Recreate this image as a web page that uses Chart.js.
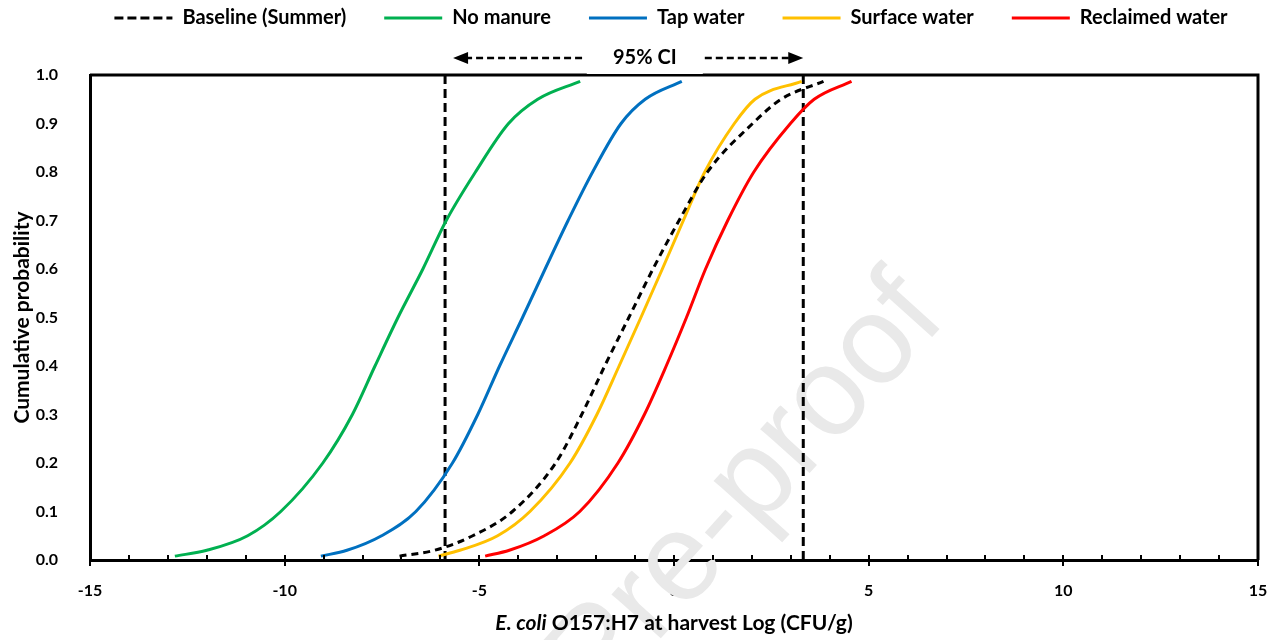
<!DOCTYPE html>
<html>
<head>
<meta charset="utf-8">
<script src="https://cdn.jsdelivr.net/npm/chart.js@4.4.0/dist/chart.umd.min.js"></script>
<style>
  html, body { margin: 0; padding: 0; background: #fff; }
  #wrap { width: 1286px; height: 640px; }
</style>
</head>
<body>
<div id="wrap"><canvas id="myChart" width="1286" height="640"></canvas></div>
<script>
// cumulative probability levels the curves were read at
var probLevels = [0.008, 0.02, 0.05, 0.1, 0.2, 0.3, 0.4, 0.5, 0.6, 0.7, 0.8, 0.9, 0.95, 0.987];

// log CFU/g at each probability level
var baselineX  = [-7.05, -6.15, -5.17, -4.15, -3.04, -2.37, -1.78, -1.16, -0.54, 0.13, 0.86, 2.02, 2.75, 3.84];
var noManureX  = [-12.82, -12.0, -10.95, -10.1, -9.02, -8.26, -7.68, -7.09, -6.45, -5.85, -5.1, -4.25, -3.5, -2.41];
var tapWaterX  = [-9.07, -8.4, -7.51, -6.63, -5.69, -5.04, -4.48, -3.89, -3.31, -2.72, -2.09, -1.36, -0.74, 0.2];
var surfaceX   = [-6.05, -5.5, -4.53, -3.7, -2.67, -1.98, -1.41, -0.85, -0.3, 0.24, 0.79, 1.55, 2.08, 3.28];
var reclaimedX = [-4.85, -4.23, -3.33, -2.42, -1.44, -0.76, -0.2, 0.32, 0.81, 1.38, 2.05, 2.99, 3.6, 4.56];

var ciBounds = [-5.88, 3.32];
var ciLabel = '95% CI';
var seriesNames = ['Baseline (Summer)', 'No manure', 'Tap water', 'Surface water', 'Reclaimed water'];

var FONT = "Lato, 'Open Sans', sans-serif";

function toPoints(xs) {
	return xs.map(function (x, i) { return { x: x, y: probLevels[i] }; });
}
function ciLine(x) {
	return [{ x: x, y: 0 }, { x: x, y: 1 }];
}

// legend sits high with wide gaps, plot starts lower
var legendFix = {
	id: 'legendFix',
	beforeLayout: function (chart) {
		var lg = chart.legend;
		if (lg && !lg._patched) {
			var fit = lg.fit;
			lg.fit = function () {
				fit.call(this);
				this.height = 75;
			};
			lg._patched = true;
		}
	},
	afterLayout: function (chart) {
		var lg = chart.legend;
		var pad = lg.options.labels.padding;
		lg.top = 20 - pad - 12;
		lg.bottom = lg.top + 75;
		lg.left += 42;
		lg.right += 42;
	}
};

// frame, x ticks, CI arrows, watermark, x title
var extras = {
	id: 'extras',
	beforeDatasetsDraw: function (chart) {
		var ctx = chart.ctx;
		ctx.save();
		ctx.translate(748, 490);
		ctx.rotate(-48 * Math.PI / 180);
		ctx.font = "125px 'Liberation Sans', sans-serif";
		ctx.fillStyle = '#e9e9e9';
		ctx.textAlign = 'center';
		ctx.textBaseline = 'middle';
		ctx.fillText('Pre-proof', 0, 0);
		ctx.restore();
	},
	afterDraw: function (chart) {
		var ctx = chart.ctx;
		var a = chart.chartArea;
		var xs = chart.scales.x;
		ctx.save();
		ctx.strokeStyle = '#000';
		ctx.lineWidth = 3;
		ctx.beginPath();
		ctx.moveTo(a.left, a.top);
		ctx.lineTo(a.right, a.top);
		ctx.lineTo(a.right, a.bottom);
		ctx.stroke();

		// ticks on the x axis
		ctx.lineWidth = 2;
		for (var v = -15; v <= 15; v++) {
			var px = Math.round(xs.getPixelForValue(v));
			ctx.beginPath();
			if (v % 5 === 0) {
				ctx.moveTo(px, a.bottom - 5);
				ctx.lineTo(px, a.bottom + 6);
			} else {
				ctx.moveTo(px, a.bottom - 5);
				ctx.lineTo(px, a.bottom);
			}
			ctx.stroke();
		}

		// 95% CI label and arrows
		var left = xs.getPixelForValue(ciBounds[0]) + 8;
		var right = xs.getPixelForValue(ciBounds[1]);
		var cx = xs.getPixelForValue(-0.75);
		var y = a.top - 17;
		ctx.fillStyle = '#fff';
		ctx.fillRect(cx - 58, a.top - 32, 116, 31);
		ctx.fillStyle = '#000';
		ctx.font = "bold 20px " + FONT;
		ctx.textAlign = 'center';
		ctx.textBaseline = 'middle';
		ctx.fillText(ciLabel, cx, y);
		ctx.setLineDash([7, 4]);
		ctx.lineWidth = 2.5;
		ctx.beginPath();
		ctx.moveTo(left + 12, y);
		ctx.lineTo(cx - 60, y);
		ctx.moveTo(cx + 60, y);
		ctx.lineTo(right - 12, y);
		ctx.stroke();
		ctx.setLineDash([]);
		ctx.beginPath();
		ctx.moveTo(left, y);
		ctx.lineTo(left + 15, y - 6);
		ctx.lineTo(left + 15, y + 6);
		ctx.closePath();
		ctx.moveTo(right, y);
		ctx.lineTo(right - 15, y - 6);
		ctx.lineTo(right - 15, y + 6);
		ctx.closePath();
		ctx.fill();

		// x axis title with italic species name
		var part1 = 'E. coli';
		var part2 = ' O157:H7 at harvest Log (CFU/g)';
		var f1 = "italic bold 21px " + FONT;
		var f2 = "bold 21px " + FONT;
		ctx.font = f1;
		var w1 = ctx.measureText(part1).width;
		ctx.font = f2;
		var w2 = ctx.measureText(part2).width;
		var tx = (a.left + a.right) / 2 - (w1 + w2) / 2;
		var ty = 623;
		ctx.textAlign = 'left';
		ctx.font = f1;
		ctx.fillText(part1, tx, ty);
		ctx.font = f2;
		ctx.fillText(part2, tx + w1, ty);
		ctx.restore();
	}
};

var ctx = document.getElementById('myChart').getContext('2d');
var myChart = new Chart(ctx, {
	type: 'scatter',
	data: {
		datasets: [{
			label: seriesNames[0],
			data: toPoints(baselineX),
			borderColor: '#000',
			borderDash: [7, 5],
			borderWidth: 3
		}, {
			label: seriesNames[1],
			data: toPoints(noManureX),
			borderColor: '#00B050',
			borderWidth: 3
		}, {
			label: seriesNames[2],
			data: toPoints(tapWaterX),
			borderColor: '#0070C0',
			borderWidth: 3
		}, {
			label: seriesNames[3],
			data: toPoints(surfaceX),
			borderColor: '#FFC000',
			borderWidth: 3
		}, {
			label: seriesNames[4],
			data: toPoints(reclaimedX),
			borderColor: '#FF0000',
			borderWidth: 3
		}, {
			label: 'ci-low',
			data: ciLine(ciBounds[0]),
			borderColor: '#000',
			borderDash: [9, 5],
			borderWidth: 3,
			cubicInterpolationMode: 'default',
			tension: 0
		}, {
			label: 'ci-high',
			data: ciLine(ciBounds[1]),
			borderColor: '#000',
			borderDash: [9, 5],
			borderWidth: 3,
			cubicInterpolationMode: 'default',
			tension: 0
		}]
	},
	options: {
		responsive: false,
		animation: false,
		layout: { padding: { top: 0, right: 28, left: 0, bottom: 0 } },
		elements: {
			point: { radius: 0, hoverRadius: 0 },
			line: { fill: false, cubicInterpolationMode: 'monotone' }
		},
		datasets: { scatter: { showLine: true } },
		plugins: {
			tooltip: { enabled: false },
			legend: {
				position: 'top',
				labels: {
					usePointStyle: true,
					pointStyle: 'line',
					pointStyleWidth: 58,
					padding: 38,
					color: '#000',
					font: { family: FONT, size: 20, weight: 'bold' },
					filter: function (item) { return item.text.indexOf('ci-') !== 0; },
					generateLabels: function (chart) {
						var items = Chart.defaults.plugins.legend.labels.generateLabels(chart);
						items.forEach(function (it) {
							var ds = chart.data.datasets[it.datasetIndex];
							it.lineDash = ds.borderDash ? [9, 4] : [];
							it.lineWidth = 3;
						});
						return items;
					}
				}
			}
		},
		scales: {
			x: {
				type: 'linear',
				min: -15,
				max: 15,
				afterFit: function (s) { s.height = 80; },
				grid: { display: false },
				border: { color: '#000', width: 3 },
				ticks: {
					stepSize: 5,
					padding: 13,
					color: '#000',
					font: { family: FONT, size: 16, weight: 'bold' }
				}
			},
			y: {
				min: 0,
				max: 1,
				afterFit: function (s) { s.width = 90; },
				grid: { display: false },
				border: { color: '#000', width: 3 },
				title: {
					display: true,
					text: 'Cumulative probability',
					color: '#000',
					padding: { top: 10, bottom: 0 },
					font: { family: FONT, size: 21, weight: 'bold' }
				},
				ticks: {
					stepSize: 0.1,
					padding: 24,
					color: '#000',
					font: { family: FONT, size: 16, weight: 'bold' },
					callback: function (v) { return v.toFixed(1); }
				}
			}
		}
	},
	plugins: [legendFix, extras]
});
</script>
</body>
</html>
